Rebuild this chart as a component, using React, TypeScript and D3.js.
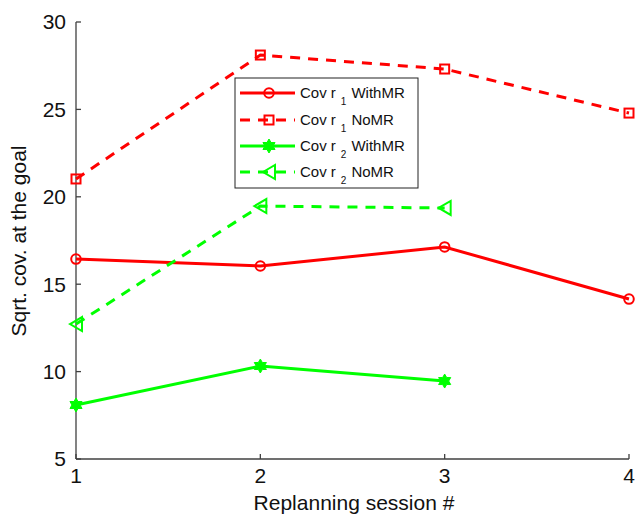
import React from "react";
import * as d3 from "d3";

const sessions = [1, 2, 3, 4];
const r1WithMR = [16.44, 16.04, 17.13, 14.15];
const r1NoMR = [21.02, 28.11, 27.31, 24.79];
const r2WithMR = [8.09, 10.32, 9.46];
const r2NoMR = [12.72, 19.47, 19.36];
const yTicks = [5, 10, 15, 20, 25, 30];
const xTicks = [1, 2, 3, 4];

const RED = "#ff0000";
const GREEN = "#00ff00";

type Marker = "circle" | "square" | "hexagram" | "triangle";

const series = [
  { name: "WithMR", sub: "1", values: r1WithMR, color: RED, dashed: false, marker: "circle" as Marker },
  { name: "NoMR", sub: "1", values: r1NoMR, color: RED, dashed: true, marker: "square" as Marker },
  { name: "WithMR", sub: "2", values: r2WithMR, color: GREEN, dashed: false, marker: "hexagram" as Marker },
  { name: "NoMR", sub: "2", values: r2NoMR, color: GREEN, dashed: true, marker: "triangle" as Marker },
];

function hexagramPath(r: number) {
  const pts: string[] = [];
  const ri = r * 0.577;
  for (let i = 0; i < 12; i++) {
    const a = (Math.PI / 6) * i - Math.PI / 2;
    const rr = i % 2 === 0 ? r : ri;
    pts.push(`${(rr * Math.cos(a)).toFixed(2)},${(rr * Math.sin(a)).toFixed(2)}`);
  }
  return "M" + pts.join("L") + "Z";
}

function MarkerShape({ m, x, y, color }: { m: Marker; x: number; y: number; color: string }) {
  if (m === "circle")
    return <circle cx={x} cy={y} r={4.8} fill="none" stroke={color} strokeWidth={2} />;
  if (m === "square")
    return <rect x={x - 4.5} y={y - 4.5} width={9} height={9} fill="none" stroke={color} strokeWidth={2} />;
  if (m === "hexagram")
    return <path d={hexagramPath(7)} transform={`translate(${x},${y})`} fill={color} stroke={color} strokeWidth={1} />;
  return (
    <path
      d="M-6,0L6,-7L6,7Z"
      transform={`translate(${x},${y})`}
      fill="none"
      stroke={color}
      strokeWidth={2}
      strokeLinejoin="miter"
    />
  );
}

export default function App() {
  const W = 635;
  const H = 516;
  const x = d3.scaleLinear().domain([1, 4]).range([76, 629]);
  const y = d3.scaleLinear().domain([5, 30]).range([459, 22]);
  const line = d3
    .line<number>()
    .x((_, i) => x(sessions[i]))
    .y((d) => y(d));
  const axisColor = "#404040";
  const font = "'Liberation Sans', Arial, Helvetica, sans-serif";

  const legX = 235;
  const legY = 78;
  const legW = 183;
  const legH = 110;
  const rowY = [93, 120, 146, 172];

  return (
    <svg
      width={W}
      height={H}
      style={{ position: "absolute", left: 0, top: 0, background: "#fff" }}
      fontFamily={font}
    >
      {/* axes */}
      <line x1={x(1)} y1={y(5)} x2={x(1)} y2={y(30)} stroke={axisColor} strokeWidth={1.3} />
      <line x1={x(1)} y1={y(5)} x2={x(4)} y2={y(5)} stroke={axisColor} strokeWidth={1.3} />
      {yTicks.map((t) => (
        <g key={"y" + t}>
          <line x1={x(1)} x2={x(1) + 5} y1={y(t)} y2={y(t)} stroke={axisColor} strokeWidth={1.3} />
          <text x={x(1) - 10} y={y(t)} dy="0.35em" textAnchor="end" fontSize={21} fill="#111">
            {t}
          </text>
        </g>
      ))}
      {xTicks.map((t) => (
        <g key={"x" + t}>
          <line x1={x(t)} x2={x(t)} y1={y(5)} y2={y(5) - 5} stroke={axisColor} strokeWidth={1.3} />
          <text x={x(t)} y={y(5) + 24} textAnchor="middle" fontSize={21} fill="#111">
            {t}
          </text>
        </g>
      ))}
      <text x={354} y={510} textAnchor="middle" fontSize={21} fill="#111">
        Replanning session #
      </text>
      <text
        transform={`translate(26,241) rotate(-90)`}
        textAnchor="middle"
        fontSize={21}
        fill="#111"
      >
        Sqrt. cov. at the goal
      </text>

      {/* series */}
      {series.map((s, i) => (
        <g key={"s" + i}>
          <path
            d={line(s.values) || ""}
            fill="none"
            stroke={s.color}
            strokeWidth={3}
            strokeDasharray={s.dashed ? "10,8" : undefined}
          />
          {s.values.map((v, j) => (
            <MarkerShape key={j} m={s.marker} x={x(sessions[j])} y={y(v)} color={s.color} />
          ))}
        </g>
      ))}

      {/* legend */}
      <rect x={legX} y={legY} width={legW} height={legH} fill="#fff" stroke="#222" strokeWidth={1} />
      {series.map((s, i) => (
        <g key={"l" + i}>
          <line
            x1={legX + 5}
            x2={legX + 60}
            y1={rowY[i]}
            y2={rowY[i]}
            stroke={s.color}
            strokeWidth={3}
            strokeDasharray={s.dashed ? "10,8" : undefined}
          />
          <MarkerShape m={s.marker} x={legX + 34} y={rowY[i]} color={s.color} />
          <text x={legX + 65} y={rowY[i]} dy="0.35em" fontSize={15} fill="#111">
            Cov r
            <tspan fontSize={10} dx={5} dy={7}>
              {s.sub}
            </tspan>
            <tspan fontSize={15} dx={5} dy={-7}>
              {s.name}
            </tspan>
          </text>
        </g>
      ))}
    </svg>
  );
}
